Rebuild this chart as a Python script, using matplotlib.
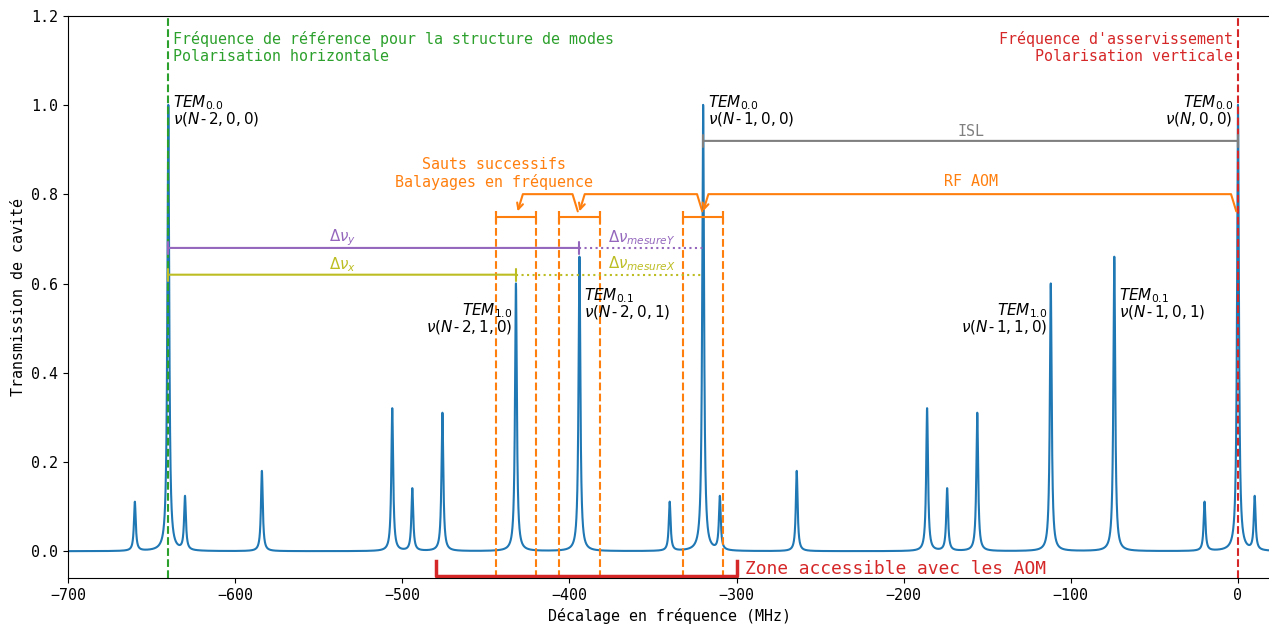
import numpy as np
import matplotlib.pyplot as plt

plt.rcParams['font.family'] = 'monospace'
plt.rcParams['font.size'] = 10.8
plt.rcParams['mathtext.fontset'] = 'dejavusans'

# peak centres (MHz) and heights
peak_freqs = [-660, -640, -630, -584, -506, -494, -476, -432, -394,
              -340, -320, -310, -264, -186, -174, -156, -112, -74,
              -20, 0, 10]
peak_heights = [0.11, 1.0, 0.12, 0.18, 0.32, 0.14, 0.31, 0.60, 0.66,
                0.11, 1.0, 0.12, 0.18, 0.32, 0.14, 0.31, 0.60, 0.66,
                0.11, 1.0, 0.12]
hwhm = 0.65  # MHz

sweep_centres = [-432, -394, -320]
sweep_half = 12

freq = np.linspace(-700, 20, 28801)
trans = np.zeros_like(freq)
for f0, h in zip(peak_freqs, peak_heights):
    trans += h / (1 + ((freq - f0) / hwhm) ** 2)

fig = plt.figure(figsize=(12.69, 6.27), dpi=100)
ax = fig.add_axes([68 / 1269, 49 / 627, (1271.4 - 68) / 1269, 562 / 627])

ax.plot(freq, trans, color='tab:blue', lw=1.5)
ax.axvline(-640, color='tab:green', ls='--', lw=1.5)
ax.axvline(0, color='tab:red', ls='--', lw=1.5)

ax.text(-637, 1.167, "Fréquence de référence pour la structure de modes\nPolarisation horizontale",
        color='tab:green', va='top', ha='left')
ax.text(-3, 1.167, "Fréquence d'asservissement\nPolarisation verticale",
        color='tab:red', va='top', ha='right', multialignment='right')

# mode labels
mode_kw = dict(va='top', linespacing=0.85, fontsize=11)
ax.text(-637, 1.026, '$TEM_{0.0}$\n$\\nu(N$-$2,0,0)$', ha='left', **mode_kw)
ax.text(-317, 1.026, '$TEM_{0.0}$\n$\\nu(N$-$1,0,0)$', ha='left', **mode_kw)
ax.text(-3, 1.026, '$TEM_{0.0}$\n$\\nu(N,0,0)$', ha='right', multialignment='right', **mode_kw)
ax.text(-434, 0.560, '$TEM_{1.0}$\n$\\nu(N$-$2,1,0)$', ha='right', multialignment='right', **mode_kw)
ax.text(-391, 0.595, '$TEM_{0.1}$\n$\\nu(N$-$2,0,1)$', ha='left', **mode_kw)
ax.text(-114, 0.560, '$TEM_{1.0}$\n$\\nu(N$-$1,1,0)$', ha='right', multialignment='right', **mode_kw)
ax.text(-71, 0.595, '$TEM_{0.1}$\n$\\nu(N$-$1,0,1)$', ha='left', **mode_kw)

# ISL
ax.annotate('', xy=(0, 0.92), xytext=(-320, 0.92),
            arrowprops=dict(arrowstyle='|-|,widthA=0.4,widthB=0.4', color='tab:gray',
                            lw=1.5, shrinkA=0, shrinkB=0))
ax.text(-160, 0.925, 'ISL', color='tab:gray', ha='center', va='bottom')

# frequency sweeps
for c in sweep_centres:
    ax.vlines([c - sweep_half, c + sweep_half], -0.06, 0.762, colors='tab:orange',
              linestyles='--', lw=1.5)
    ax.vlines([c - sweep_half, c + sweep_half], 0.736, 0.762, colors='tab:orange', lw=1.5)
    ax.hlines(0.749, c - sweep_half, c + sweep_half, colors='tab:orange', lw=1.5)

bracket = dict(arrowstyle='->', color='tab:orange', lw=1.5, shrinkA=0, shrinkB=0,
               connectionstyle='arc,angleA=107,angleB=73,armA=18,armB=18,rad=0')
ax.annotate('', xy=(-431, 0.762), xytext=(-395, 0.762), arrowprops=bracket)
ax.annotate('', xy=(-394, 0.762), xytext=(-320.5, 0.762), arrowprops=bracket)
ax.annotate('', xy=(-320, 0.762), xytext=(-1, 0.762), arrowprops=bracket)
ax.text(-445, 0.847, 'Sauts successifs\nBalayages en fréquence', color='tab:orange',
        ha='center', va='center')
ax.text(-160, 0.828, 'RF AOM', color='tab:orange', ha='center', va='center')

# measured offsets
for y, x_end, col, lab, lab_m in [(0.68, -394, 'tab:purple', '$\\Delta\\nu_y$', '$\\Delta\\nu_{mesureY}$'),
                                  (0.62, -432, 'tab:olive', '$\\Delta\\nu_x$', '$\\Delta\\nu_{mesureX}$')]:
    ax.annotate('', xy=(x_end, y), xytext=(-640, y),
                arrowprops=dict(arrowstyle='|-|,widthA=0.4,widthB=0.4', color=col,
                                lw=1.5, shrinkA=0, shrinkB=0))
    ax.hlines(y, x_end, -320, colors=col, linestyles=':', lw=1.5)
    ax.text(-536, y + 0.022, lab, color=col, ha='center', va='center')
    ax.text(-377, y + 0.024, lab_m, color=col, ha='left', va='center')

# AOM range
ax.plot([-480, -480, -300, -300], [-0.022, -0.056, -0.056, -0.022], color='tab:red', lw=2.5)
ax.text(-295, -0.04, 'Zone accessible avec les AOM', color='tab:red', fontsize=12.87,
        ha='left', va='center')

ax.set_xlim(-700, 20)
ax.set_ylim(-0.06, 1.2)
ax.set_xticks(np.arange(-700, 1, 100))
ax.set_yticks(np.arange(0, 1.21, 0.2))
ax.set_xlabel('Décalage en fréquence (MHz)')
ax.set_ylabel('Transmission de cavité')

fig.savefig('out.png', dpi=100)
